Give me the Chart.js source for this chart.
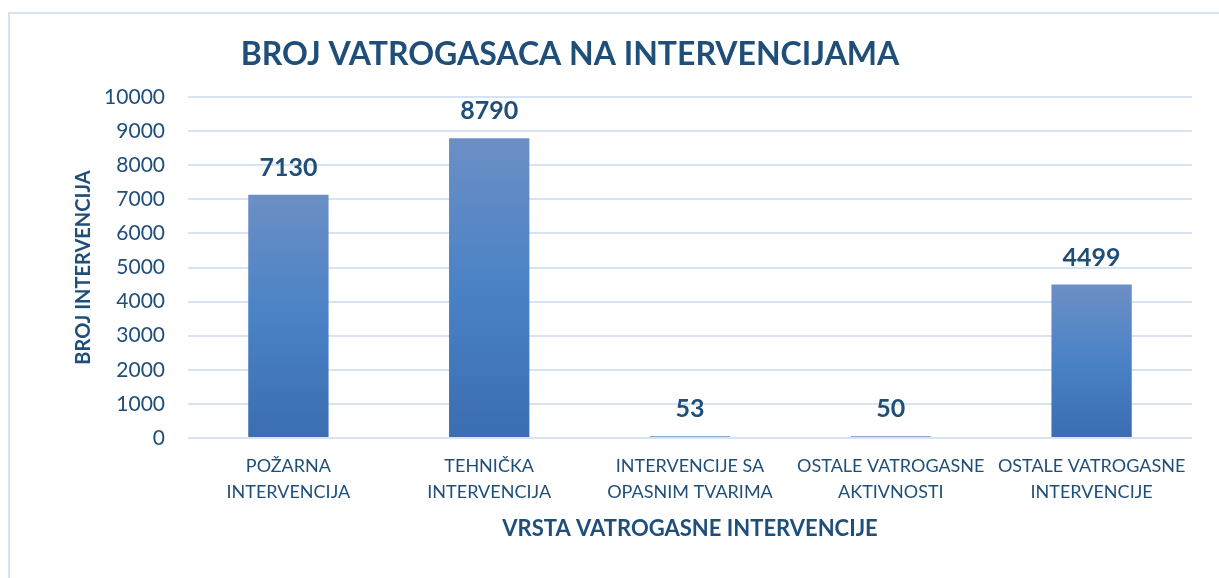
<!DOCTYPE html>
<html>
<head>
<meta charset="utf-8">
<script src="https://cdn.jsdelivr.net/npm/chart.js@4"></script>
<style>
  html, body { margin: 0; padding: 0; background: #fff; }
  #wrap { position: relative; width: 1219px; height: 578px; overflow: hidden; }
  #frame { position: absolute; left: 8px; top: 12px; width: 1240px; height: 600px;
           border-left: 2px solid #d5e3f4; border-top: 2px solid #d5e3f4; box-sizing: border-box; }
  canvas { position: absolute; left: 0; top: 0; }
</style>
</head>
<body>
<div id="wrap">
  <div id="frame"></div>
  <canvas id="chart" width="1219" height="578"></canvas>
</div>
<script>
// data
const chartTitle = 'BROJ VATROGASACA NA INTERVENCIJAMA';
const categories = [
    ['POŽARNA', 'INTERVENCIJA'],
    ['TEHNIČKA', 'INTERVENCIJA'],
    ['INTERVENCIJE SA', 'OPASNIM TVARIMA'],
    ['OSTALE VATROGASNE', 'AKTIVNOSTI'],
    ['OSTALE VATROGASNE', 'INTERVENCIJE'],
];
const interventions = [7130, 8790, 53, 50, 4499];
const yTicks = [0, 1000, 2000, 3000, 4000, 5000, 6000, 7000, 8000, 9000, 10000];
const xAxisTitle = 'VRSTA VATROGASNE INTERVENCIJE';
const yAxisTitle = 'BROJ INTERVENCIJA';

const darkBlue = '#1f4e79';
const fontFamily = 'Lato, "Open Sans", sans-serif';

// gradient for each bar, from its top down to zero
function barGradient(context) {
    const chart = context.chart;
    if (!chart.chartArea) return '#4a82c6';
    const yScale = chart.scales.y;
    const top = yScale.getPixelForValue(context.raw);
    const bottom = yScale.getPixelForValue(0);
    if (bottom - top < 1) return '#4a7cbd';
    const g = chart.ctx.createLinearGradient(0, top, 0, bottom);
    g.addColorStop(0, '#6c8fc5');
    g.addColorStop(0.5, '#4a82c6');
    g.addColorStop(1, '#3b6db0');
    return g;
}

// title drawn a bit left of the plot centre, like the original
const titlePlugin = {
    id: 'titlePlugin',
    afterDraw(chart) {
        const ctx = chart.ctx;
        ctx.save();
        ctx.font = 'bold 32px ' + fontFamily;
        ctx.fillStyle = darkBlue;
        ctx.textAlign = 'center';
        ctx.textBaseline = 'middle';
        ctx.fillText(chartTitle, 570, 55);
        ctx.restore();
    }
};

// value labels above the bars
const valueLabels = {
    id: 'valueLabels',
    afterDatasetsDraw(chart) {
        const ctx = chart.ctx;
        const meta = chart.getDatasetMeta(0);
        ctx.save();
        ctx.font = 'bold 25px ' + fontFamily;
        ctx.fillStyle = darkBlue;
        ctx.textAlign = 'center';
        ctx.textBaseline = 'middle';
        meta.data.forEach((bar, i) => {
            ctx.fillText(String(interventions[i]), bar.x, bar.y - 27);
        });
        ctx.restore();
    }
};

const ctx = document.getElementById('chart').getContext('2d');
new Chart(ctx, {
    type: 'bar',
    data: {
        labels: categories,
        datasets: [{
            data: interventions,
            backgroundColor: barGradient,
            borderWidth: 0,
            barPercentage: 0.4,
            categoryPercentage: 1.0,
        }],
    },
    options: {
        responsive: false,
        animation: false,
        layout: {
            padding: { left: 0, right: 27, top: 97, bottom: 0 },
        },
        plugins: {
            legend: { display: false },
            title: { display: false },
            tooltip: { enabled: false },
        },
        scales: {
            x: {
                grid: { display: false, drawTicks: false },
                border: { display: false },
                ticks: {
                    color: darkBlue,
                    padding: 15,
                    maxRotation: 0,
                    autoSkip: false,
                    font: { family: fontFamily, size: 18, lineHeight: '26px' },
                },
                title: {
                    display: true,
                    text: xAxisTitle,
                    color: darkBlue,
                    padding: { top: 36, bottom: 36 },
                    font: { family: fontFamily, size: 22, weight: 'bold', lineHeight: 1.2 },
                },
                afterFit(scale) { scale.height = 140; },
            },
            y: {
                min: 0,
                max: 10000,
                afterBuildTicks(scale) {
                    scale.ticks = yTicks.map(v => ({ value: v }));
                },
                grid: { color: '#d6e3f3', lineWidth: 2, drawTicks: false },
                border: { display: false },
                ticks: {
                    color: darkBlue,
                    padding: 23,
                    font: { family: fontFamily, size: 21 },
                    callback: value => String(value),
                },
                title: {
                    display: true,
                    text: yAxisTitle,
                    color: darkBlue,
                    padding: { top: 72, bottom: 0 },
                    font: { family: fontFamily, size: 20, weight: 'bold', lineHeight: 1.2 },
                },
                afterFit(scale) { scale.width = 188; },
            },
        },
    },
    plugins: [titlePlugin, valueLabels],
});
</script>
</body>
</html>
